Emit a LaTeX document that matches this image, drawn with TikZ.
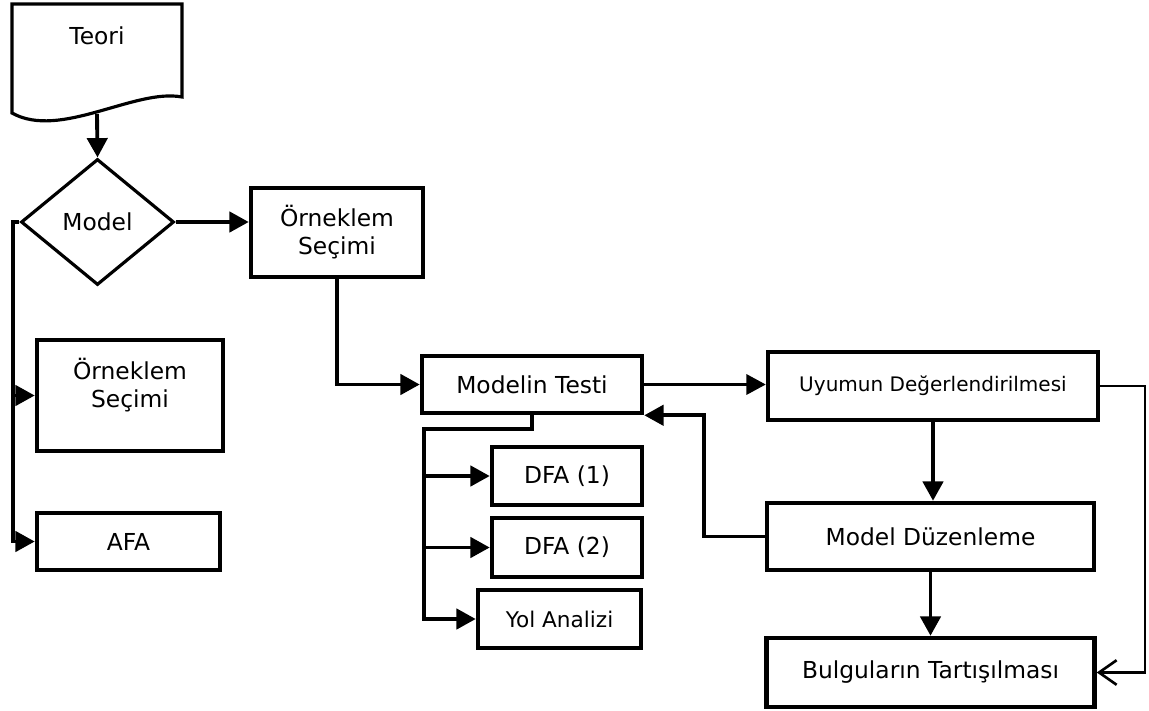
\documentclass[tikz,border=0pt]{standalone}
\usepackage{fontspec}
\setmainfont{DejaVu Sans}
\usetikzlibrary{shapes.geometric,arrows.meta}
\tikzset{
  box/.style={draw,line width=2.6pt,align=center,inner sep=0pt,font=\fontsize{13.3}{16}\selectfont},
  small/.style={font=\fontsize{12.3}{14}\selectfont},
  conn/.style={line width=2.2pt},
  thinconn/.style={line width=1.5pt},
}
\begin{document}
\begin{tikzpicture}[x=0.02cm,y=-0.02cm,>={Triangle[length=11pt,width=11.5pt]}]
  \useasboundingbox (0,0) rectangle (1149,710);
  \draw[line width=1.8pt](12,4)--(182,4)--(182,97) .. controls (135,88) and (60,140) .. (12,113)--cycle;
  \node[font=\fontsize{13.3}{16}\selectfont] (teori) at (97,36) {Teori};
  \coordinate (teoriB) at (97,114);
  \node[draw,diamond,line width=1.8pt,minimum width=3.06cm,minimum height=2.52cm,inner sep=0pt,
        font=\fontsize{13.3}{16}\selectfont] (model) at (97.5,222) {Model};
  \node[box,minimum width=3.44cm,minimum height=1.78cm] (orn2) at (337,232.5) {Örneklem\\Seçimi};
  \node[box,minimum width=3.72cm,minimum height=2.22cm,
        label={[font=\fontsize{13.3}{16}\selectfont,align=center,anchor=center,yshift=6pt]center:{Örneklem\\Seçimi}}]
        (orn1) at (130,395.5) {};
  \node[box,minimum width=3.66cm,minimum height=1.14cm] (afa) at (128.5,541.5) {AFA};
  \node[box,minimum width=4.4cm,minimum height=1.14cm] (testi) at (532,384.5) {Modelin Testi};
  \node[box,minimum width=3cm,minimum height=1.16cm] (dfa1) at (567,476) {DFA (1)};
  \node[box,minimum width=3cm,minimum height=1.18cm] (dfa2) at (567,547.5) {DFA (2)};
  \node[box,small,minimum width=3.26cm,minimum height=1.16cm] (yol) at (559.5,619) {Yol Analizi};
  \node[box,font=\fontsize{11.4}{14}\selectfont,minimum width=6.6cm,minimum height=1.36cm] (uyum) at (933,386) {Uyumun Değerlendirilmesi};
  \node[box,minimum width=6.54cm,minimum height=1.34cm] (duzen) at (930.5,536.5) {Model Düzenleme};
  \node[box,minimum width=6.56cm,minimum height=1.38cm] (bulgu) at (930.5,672.5) {Bulguların Tartışılması};
  \coordinate (trunk) at (13,222);
  \coordinate (split) at (424,429);
  \coordinate (back) at (704,536.5);
  \coordinate (rt) at (1145,386);
  \draw[conn,->](teoriB)--(model.north);
  \draw[conn,->](model.east)--(model.east-|orn2.west);
  \draw[conn,->](model.west)--(trunk)|-(afa.west);
  \draw[conn,->](trunk|-orn1.west)--(orn1.west);
  \draw[conn,->](orn2.south)|-(testi.west);
  \draw[conn,->](testi.south)|-(split)|-(yol.west);
  \draw[conn,->](split|-dfa1.west)--(dfa1.west);
  \draw[conn,->](split|-dfa2.west)--(dfa2.west);
  \draw[thinconn,->](testi.east)--(testi.east-|uyum.west);
  \draw[thinconn,-{Straight Barb[length=10pt,width=14pt]}](uyum.east)--(rt)|-(bulgu.east);
  \draw[conn,->](uyum.south)--(uyum.south|-duzen.north);
  \draw[conn,->](duzen.west)--(back)|-(testi.south east);
  \draw[conn,->](duzen.south)--(bulgu.north);
\end{tikzpicture}
\end{document}
